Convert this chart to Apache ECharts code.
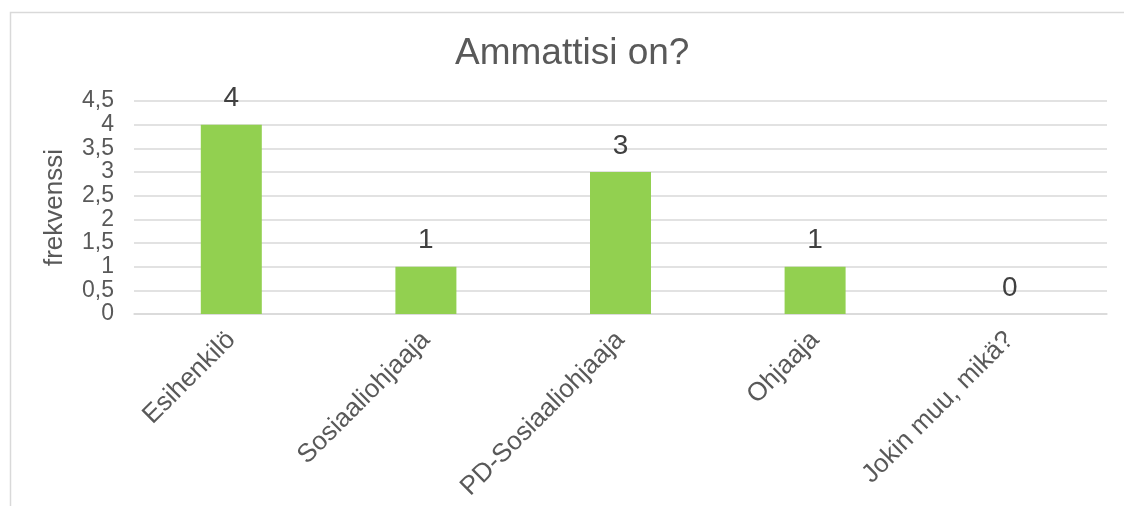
<!DOCTYPE html>
<html>
<head>
<meta charset="utf-8">
<script src="https://cdn.jsdelivr.net/npm/echarts@6/dist/echarts.min.js"></script>
<style>
html,body{margin:0;padding:0;background:#fff;}
#chart{width:1124px;height:506px;}
</style>
</head>
<body>
<div id="chart"></div>
<script>
const categories = ['Esihenkilö', 'Sosiaaliohjaaja', 'PD-Sosiaaliohjaaja', 'Ohjaaja', 'Jokin muu, mikä?'];
const values = [4, 1, 3, 1, 0];
const titleText = 'Ammattisi on?';
const yAxisName = 'frekvenssi';

const FONT = '"Liberation Sans", Arial, sans-serif';
const chart = echarts.init(document.getElementById('chart'), null, {renderer: 'canvas'});
chart.setOption({
  animation: false,
  backgroundColor: '#fff',
  graphic: [{
    type: 'rect', left: 8, top: 10, silent: true,
    shape: {width: 1140, height: 520},
    style: {fill: 'none', stroke: '#d9d9d9', lineWidth: 1.5}
  }],
  title: {
    text: titleText, left: 450, top: 30,
    textStyle: {fontFamily: FONT, fontSize: 37, fontWeight: 'normal', color: '#595959'}
  },
  grid: {left: 134, right: 17, top: 101, bottom: 192},
  xAxis: {
    type: 'category', data: categories,
    axisLine: {show: true, lineStyle: {color: '#d9d9d9', width: 1.5}},
    axisTick: {show: false},
    axisLabel: {rotate: 45, interval: 0, margin: 22, fontFamily: FONT, fontSize: 26, color: '#595959'}
  },
  yAxis: {
    type: 'value', min: 0, max: 4.5, interval: 0.5,
    name: yAxisName, nameLocation: 'middle', nameGap: 66,
    nameTextStyle: {fontFamily: FONT, fontSize: 26, color: '#595959'},
    axisLine: {show: false}, axisTick: {show: false},
    splitLine: {lineStyle: {color: '#d9d9d9', width: 1.5}},
    axisLabel: {
      margin: 20, fontFamily: FONT, fontSize: 23, color: '#595959',
      formatter: v => String(v).replace('.', ',')
    }
  },
  series: [{
    type: 'bar', data: values, barWidth: 61,
    itemStyle: {color: '#92D050'},
    label: {show: true, position: 'top', distance: 12, fontFamily: FONT, fontSize: 28, color: '#404040'}
  }]
});
</script>
</body>
</html>
